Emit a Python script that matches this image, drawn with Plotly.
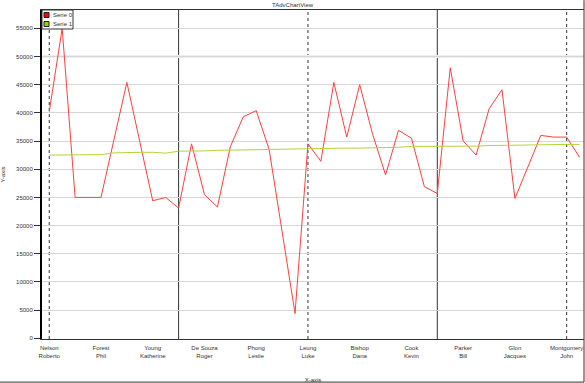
import plotly.graph_objects as go

# ---- data ----
tick_labels = ["Nelson<br>Roberto", "Forest<br>Phil", "Young<br>Katherine", "De Souza<br>Roger",
               "Phong<br>Leslie", "Leung<br>Luke", "Bishop<br>Dana", "Cook<br>Kevin",
               "Parker<br>Bill", "Glon<br>Jacques", "Montgomery<br>John"]
label_step = 4

serie0 = [40200, 55000, 25000, 25000, 25000, 35200, 45400, 34900, 24400, 25000,
          23100, 34500, 25500, 23300, 34000, 39300, 40400, 33500, 19000, 4400,
          34500, 31400, 45400, 35700, 45000, 36200, 29000, 36900, 35500, 26900,
          25700, 48000, 35000, 32500, 40700, 44100, 24800, 30400, 36000, 35700,
          35700, 32100]
serie1 = [32500, 32500, 32550, 32550, 32600, 32900, 33000, 33000, 33000, 32850,
          33200, 33200, 33250, 33350, 33400, 33400, 33450, 33450, 33550, 33600,
          33650, 33700, 33700, 33750, 33750, 33750, 33850, 33900, 34050, 34050,
          34050, 34050, 34050, 34100, 34200, 34250, 34250, 34250, 34300, 34350,
          34400, 34400]
series_names = ["Serie 0", "Serie 1"]
series_colors = ["#ff4040", "#b4d43a"]
legend_colors = ["#ff0000", "#99cc00"]
divider_idx = [0, 10, 20, 30, 40]

x = list(range(len(serie0)))
tickvals = list(range(0, len(serie0), label_step))[:len(tick_labels)]

FONT = "Liberation Sans, Arial, sans-serif"
fig = go.Figure()

for ys, nm, col in zip([serie0, serie1], series_names, series_colors):
    fig.add_trace(go.Scatter(x=x, y=ys, mode="lines", name=nm,
                             line=dict(color=col, width=1), showlegend=False))

shapes = []
for i, d in enumerate(divider_idx):
    shapes.append(dict(type="line", xref="x", yref="paper", x0=d, x1=d, y0=0, y1=1,
                       line=dict(color="#333333", width=1, dash="dot" if i % 2 == 0 else "solid"),
                       layer="between"))
# light band at 50000
shapes.append(dict(type="line", xref="paper", yref="y", x0=0, x1=1, y0=50000, y1=50000,
                   line=dict(color="#eeeeee", width=3), layer="between"))
# outer frame
shapes.append(dict(type="line", xref="paper", yref="paper", x0=-0.08, x1=1, y0=-0.131, y1=-0.131,
                   line=dict(color="#333333", width=1)))
shapes.append(dict(type="line", xref="paper", yref="paper", x0=1, x1=1, y0=-0.131, y1=1.03,
                   line=dict(color="#333333", width=1)))

# compact legend box
annotations = [dict(text="TAdvChartView", xref="paper", yref="paper", x=0.464, y=1.0, yshift=5,
                    yanchor="middle", showarrow=False, font=dict(size=6, color="#333333"))]
shapes.append(dict(type="rect", xref="paper", yref="paper", xsizemode="pixel", ysizemode="pixel",
                   xanchor=0, yanchor=1, x0=0, x1=31, y0=0, y1=-19,
                   fillcolor="white", line=dict(color="#333333", width=1)))
for k, (nm, col) in enumerate(zip(series_names, legend_colors)):
    top = -2.5 - 9 * k
    shapes.append(dict(type="rect", xref="paper", yref="paper", xsizemode="pixel", ysizemode="pixel",
                       xanchor=0, yanchor=1, x0=2, x1=7, y0=top, y1=top - 5,
                       fillcolor=col, line=dict(color="#222222", width=1)))
    annotations.append(dict(text=nm, xref="paper", yref="paper", x=0, y=1, xshift=9,
                            yshift=top - 2.5, xanchor="left", yanchor="middle", showarrow=False,
                            font=dict(size=6, color="#333333")))

fig.update_layout(
    width=585, height=383,
    margin=dict(l=42, r=1, t=10, b=44),
    paper_bgcolor="white", plot_bgcolor="white",
    font=dict(family=FONT, size=6, color="#333333"),
    showlegend=False,
    shapes=shapes,
    annotations=annotations,
)
fig.update_xaxes(range=[-0.56, 41.34], tickvals=tickvals, ticktext=tick_labels,
                 showgrid=False, zeroline=False, showline=True, linecolor="#333333",
                 linewidth=1, mirror=True, ticks="", tickfont=dict(size=6), automargin=False,
                 ticklabelstandoff=3,
                 title=dict(text="X-axis", font=dict(size=6), standoff=24))
fig.update_yaxes(range=[-120, 58250], dtick=5000, tickformat="d",
                 showgrid=True, gridcolor="#d6d6d6", gridwidth=1, zeroline=False,
                 showline=True, linecolor="#000000", linewidth=2, ticks="outside",
                 ticklen=6, tickcolor="#333333", tickfont=dict(size=6), automargin=False,
                 title=dict(text="Y-axis", font=dict(size=6), standoff=11))

fig.write_html("out.html", config={"displayModeBar": False},
               post_script="document.body.style.margin='0px';")
